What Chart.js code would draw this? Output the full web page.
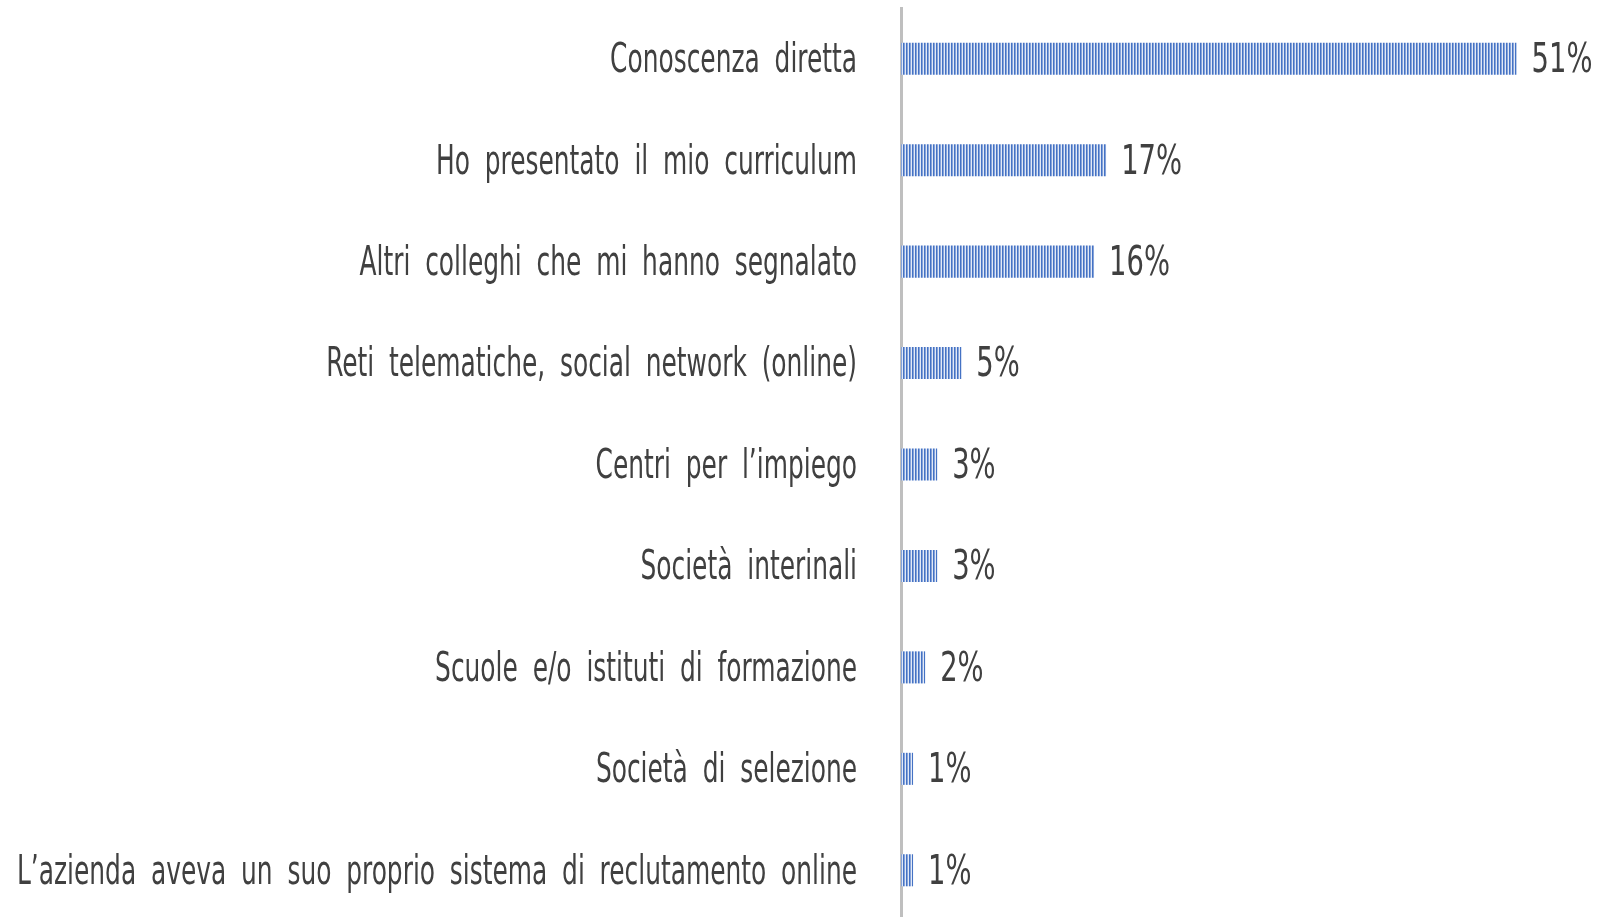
<!DOCTYPE html>
<html>
<head>
<meta charset="utf-8">
<script src="https://cdn.jsdelivr.net/npm/chart.js@4/dist/chart.umd.min.js"></script>
<style>
  html, body { margin: 0; padding: 0; background: #fff; overflow: hidden; }
</style>
</head>
<body>
<canvas id="chart" width="1603" height="925"></canvas>
<script>
const categories = [
  'Conoscenza diretta',
  'Ho presentato il mio curriculum',
  'Altri colleghi che mi hanno segnalato',
  'Reti telematiche, social network (online)',
  'Centri per l’impiego',
  'Società interinali',
  'Scuole e/o istituti di formazione',
  'Società di selezione',
  'L’azienda aveva un suo proprio sistema di reclutamento online'
];
const percentages = [51, 17, 16, 5, 3, 3, 2, 1, 1];

const FONT = "40px 'DejaVu Sans Condensed', 'Liberation Sans Narrow', sans-serif";
const TEXT_COLOR = '#404040';
const LABEL_RIGHT = 857;   // right edge of category labels
const LONGEST_WIDTH = 840; // width of the longest label in the original
const TEXT_SHIFT = 3;      // DejaVu sits a little high on 'middle'

// vertical stripe fill like the original
function makeStripes(ctx) {
    const c = document.createElement('canvas');
    c.width = 3;
    c.height = 10;
    const p = c.getContext('2d');
    p.fillStyle = '#4472c4';
    p.fillRect(0, 0, 1, 10);
    p.fillStyle = '#86a3d9';
    p.fillRect(1, 0, 1, 10);
    p.fillStyle = '#e2e9f6';
    p.fillRect(2, 0, 1, 10);
    return ctx.createPattern(c, 'repeat');
}

// condensed text: the original uses a narrow face
function condensedText(ctx, text, x, y, align, sx) {
    ctx.save();
    ctx.translate(x, y);
    ctx.scale(sx, 1);
    ctx.textAlign = align;
    ctx.fillText(text, 0, 0);
    ctx.restore();
}

const textLabels = {
    id: 'textLabels',
    afterDatasetsDraw(chart) {
        const ctx = chart.ctx;
        const meta = chart.getDatasetMeta(0);
        const yScale = chart.scales.y;
        ctx.save();
        ctx.font = FONT;
        ctx.wordSpacing = '10px';
        ctx.fillStyle = TEXT_COLOR;
        ctx.textBaseline = 'middle';
        const longest = categories.reduce((a, b) => (b.length > a.length ? b : a));
        const sx = LONGEST_WIDTH / ctx.measureText(longest).width;
        categories.forEach((label, i) => {
            const y = yScale.getPixelForValue(i) + TEXT_SHIFT;
            condensedText(ctx, label, LABEL_RIGHT, y, 'right', sx);
        });
        ctx.wordSpacing = '0px';
        meta.data.forEach((bar, i) => {
            condensedText(ctx, percentages[i] + '%', bar.x + 15, bar.y + TEXT_SHIFT, 'left', sx * 1.1);
        });
        ctx.restore();
    }
};

const ctx = document.getElementById('chart').getContext('2d');
new Chart(ctx, {
    type: 'bar',
    data: {
        labels: categories,
        datasets: [{
            data: percentages,
            backgroundColor: makeStripes(ctx),
            borderWidth: 0,
            categoryPercentage: 1,
            barPercentage: 0.316
        }]
    },
    options: {
        indexAxis: 'y',
        responsive: false,
        animation: false,
        layout: {
            padding: { top: 8, bottom: 4, left: 0, right: 8 }
        },
        plugins: {
            legend: { display: false },
            tooltip: { enabled: false }
        },
        scales: {
            x: {
                display: false,
                min: 0,
                max: 57.5
            },
            y: {
                afterFit(scale) {
                    scale.width = 901;
                    scale.paddingTop = 0;
                    scale.paddingBottom = 0;
                },
                grid: {
                    display: false,
                    drawTicks: false
                },
                border: {
                    display: true,
                    color: '#bfbfbf',
                    width: 3
                },
                ticks: {
                    display: false
                }
            }
        }
    },
    plugins: [textLabels]
});
</script>
</body>
</html>
